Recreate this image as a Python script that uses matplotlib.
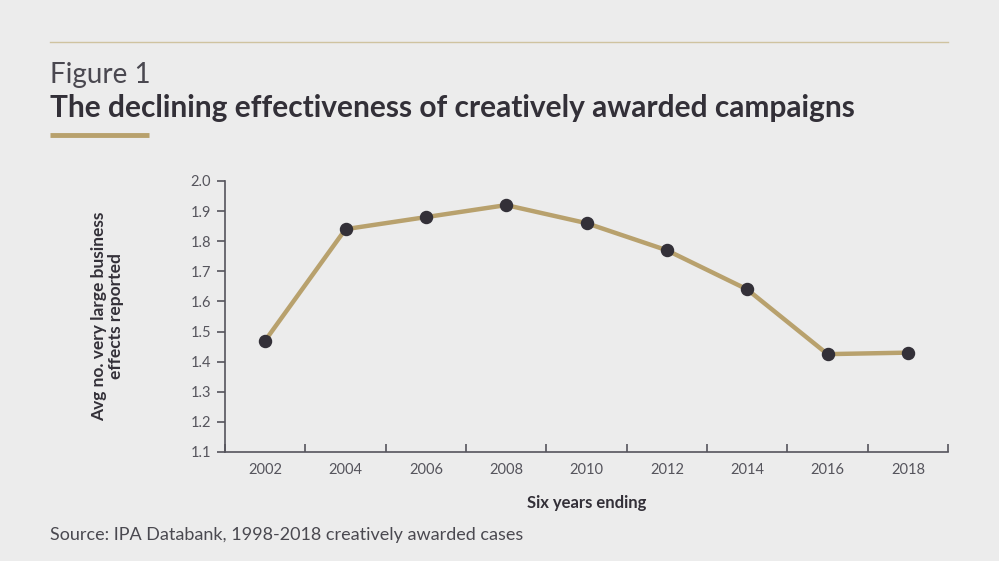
import matplotlib.pyplot as plt
from matplotlib.lines import Line2D

# Data
years = ['2002', '2004', '2006', '2008', '2010', '2012', '2014', '2016', '2018']
avg_effects = [1.47, 1.84, 1.88, 1.92, 1.86, 1.77, 1.64, 1.425, 1.43]
y_ticks = [1.1, 1.2, 1.3, 1.4, 1.5, 1.6, 1.7, 1.8, 1.9, 2.0]

bg = '#ececec'
gold = '#b8a16d'
dark = '#333038'
grey = '#55545c'

plt.rcParams['font.family'] = ['Lato', 'DejaVu Sans']

fig = plt.figure(figsize=(9.99, 5.61), dpi=100, facecolor=bg)
W, H = 999, 561

# axes placed in pixel terms
ax = fig.add_axes([225 / W, (H - 452) / H, (948 - 225) / W, (452 - 181) / H])
ax.set_facecolor(bg)

x = [i + 0.5 for i in range(len(years))]
ax.plot(x, avg_effects, color=gold, lw=3.2, zorder=2)
ax.scatter(x, avg_effects, s=75, color=dark, zorder=3)

ax.set_xlim(0, len(years))
ax.set_ylim(1.1, 2.0)
ax.set_yticks(y_ticks)
ax.set_yticklabels([f'{v:.1f}' for v in y_ticks])
ax.set_xticks(range(len(years) + 1))
ax.set_xticklabels([])
ax.set_xticks(x, minor=True)
ax.set_xticklabels(years, minor=True)

for s in ['top', 'right']:
    ax.spines[s].set_visible(False)
for s in ['left', 'bottom']:
    ax.spines[s].set_color(grey)
    ax.spines[s].set_linewidth(1.2)

ax.tick_params(axis='both', which='major', color=grey, width=1.2, length=6,
               labelsize=10.5, labelcolor=grey, pad=4)
ax.tick_params(axis='y', direction='out', length=6)
ax.tick_params(axis='x', which='major', direction='in', length=6)
ax.tick_params(axis='x', which='minor', length=0, labelsize=10.5,
               labelcolor=grey, pad=8)

ax.set_xlabel('Six years ending', fontsize=12, fontweight='bold', color=dark,
              labelpad=13)
ax.set_ylabel('Avg no. very large business\neffects reported', fontsize=12.5,
              fontweight='bold', color=dark, labelpad=48, linespacing=1.05)

# header decoration
fig.add_artist(Line2D([50 / W, 948 / W], [1 - 42 / H, 1 - 42 / H],
                      color='#cfc3a0', lw=1.0))
fig.add_artist(Line2D([50 / W, 149 / W], [1 - 135 / H, 1 - 135 / H],
                      color=gold, lw=3.5, solid_capstyle='butt'))

fig.text(50 / W, 1 - 83 / H, 'Figure 1', fontsize=20, color='#4a4850',
         va='baseline')
fig.text(50 / W, 1 - 117 / H, 'The declining effectiveness of creatively awarded campaigns',
         fontsize=21.5, fontweight='bold', color=dark, va='baseline')
fig.text(50 / W, 1 - 540 / H, 'Source: IPA Databank, 1998-2018 creatively awarded cases',
         fontsize=13, color='#4a4950', va='baseline')

fig.savefig('out.png', dpi=100, facecolor=bg)
